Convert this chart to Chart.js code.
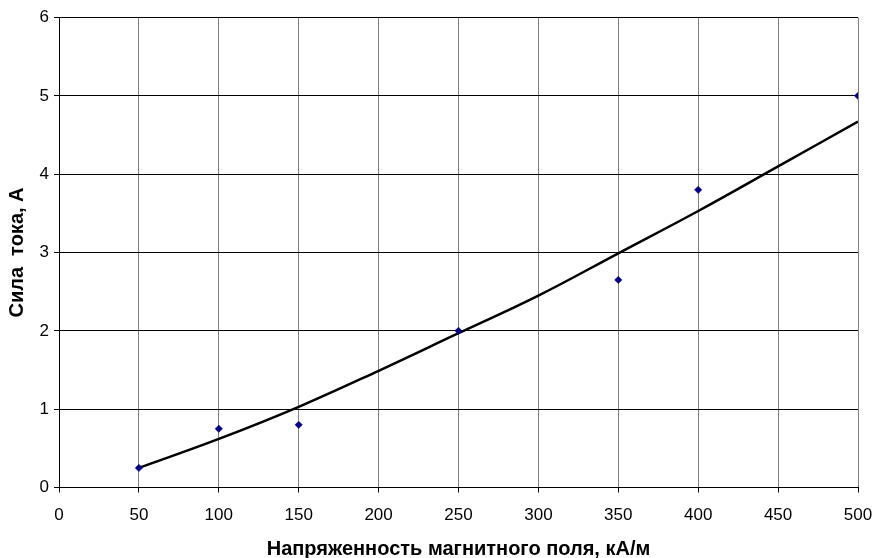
<!DOCTYPE html>
<html>
<head>
<meta charset="utf-8">
<script src="https://cdn.jsdelivr.net/npm/chart.js@4/dist/chart.umd.min.js"></script>
<style>
  html, body { margin: 0; padding: 0; background: #fff; }
  #wrap { width: 874px; height: 558px; }
</style>
</head>
<body>
<div id="wrap"><canvas id="c" width="874" height="558"></canvas></div>
<script>
// Measured points
const fieldX = [50, 100, 150, 250, 350, 400, 500];
const currentY = [0.25, 0.75, 0.80, 2.00, 2.65, 3.80, 5.00];
// Trend line
const trendX = [50, 100, 150, 200, 250, 300, 350, 400, 450, 500];
const trendY = [0.25, 0.62, 1.03, 1.49, 1.97, 2.45, 2.99, 3.53, 4.10, 4.67];

const xTitle = 'Напряженность магнитного поля, кА/м';
const yTitle = 'Сила  тока, А';

const pts = fieldX.map((x, i) => ({ x: x, y: currentY[i] }));
const trend = trendX.map((x, i) => ({ x: x, y: trendY[i] }));

Chart.defaults.font.family = '"Liberation Sans", Arial, sans-serif';
Chart.defaults.color = '#000';

new Chart(document.getElementById('c'), {
  type: 'scatter',
  data: {
    datasets: [
      {
        label: 'trend',
        data: trend,
        showLine: true,
        borderColor: '#000',
        borderWidth: 2.5,
        pointRadius: 0,
        tension: 0.4,
        fill: false,
        order: 2
      },
      {
        label: 'data',
        data: pts,
        showLine: false,
        pointStyle: 'rectRot',
        pointRadius: 3.7,
        backgroundColor: '#000080',
        borderColor: '#000080',
        borderWidth: 0.5,
        order: 1
      }
    ]
  },
  options: {
    responsive: false,
    animation: false,
    events: [],
    layout: { padding: { top: 17.5, right: 16, left: 0, bottom: 0 } },
    plugins: { legend: { display: false }, tooltip: { enabled: false } },
    scales: {
      x: {
        type: 'linear',
        min: 0, max: 500,
        afterFit: (s) => { s.height = 70.5; s.paddingLeft = 0; s.paddingRight = 0; },
        ticks: { stepSize: 50, padding: 13, font: { size: 17 }, maxRotation: 0 },
        grid: { color: '#808080', tickColor: '#000', tickLength: 5, lineWidth: 1 },
        border: { color: '#000', width: 1 },
        title: { display: true, text: xTitle, font: { size: 20, weight: 'bold' }, padding: { top: 0, bottom: -3 } }
      },
      y: {
        type: 'linear',
        min: 0, max: 6,
        afterFit: (s) => { s.width = 59; s.paddingTop = 0; s.paddingBottom = 0; },
        ticks: { stepSize: 1, padding: 5, font: { size: 17 } },
        grid: { color: '#000', tickColor: '#000', tickLength: 5, lineWidth: 1 },
        border: { color: '#000', width: 1 },
        title: { display: true, text: yTitle, font: { size: 20, weight: 'bold' }, padding: { top: 5, bottom: 0 } }
      }
    }
  }
});
</script>
</body>
</html>
